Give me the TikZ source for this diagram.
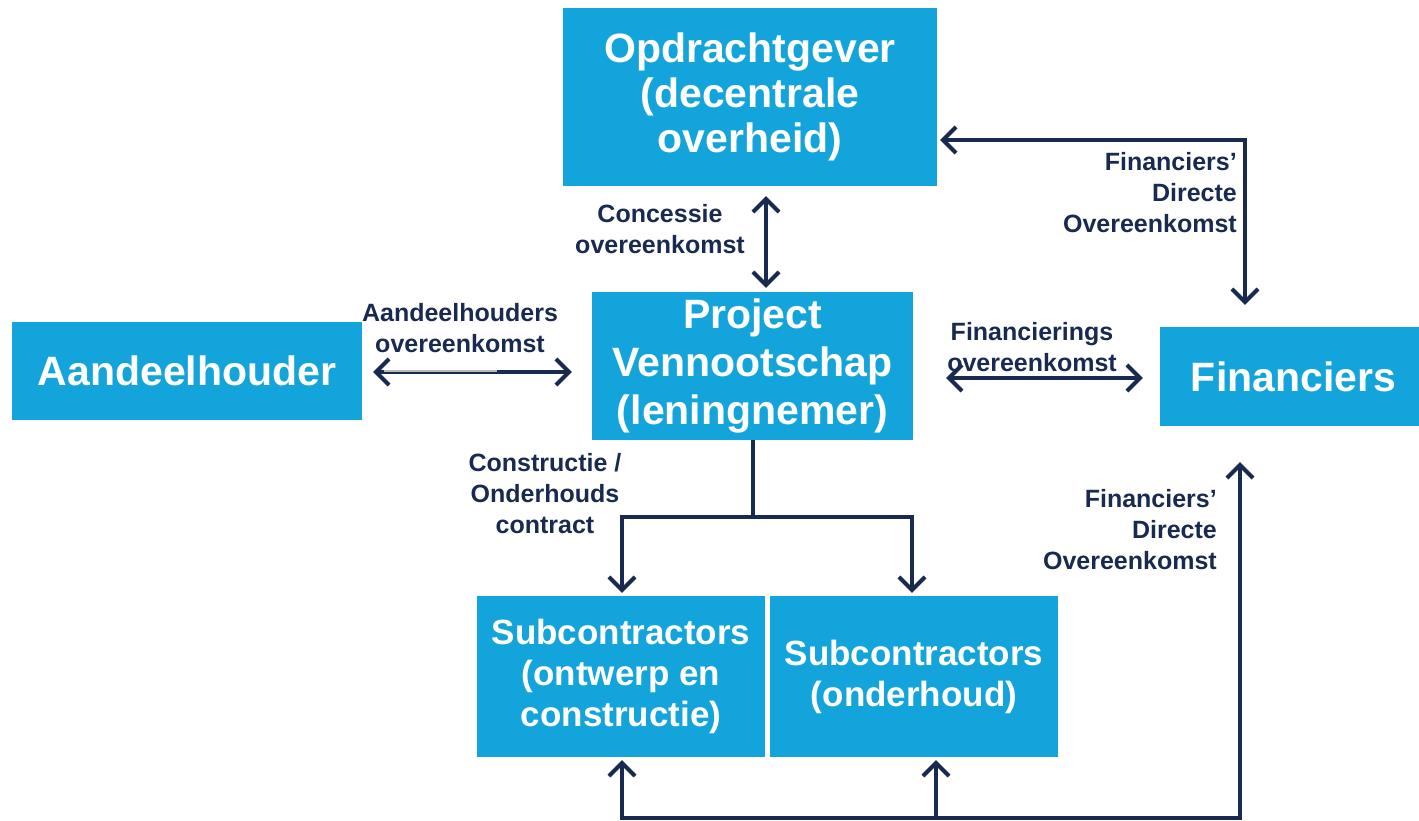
\documentclass[tikz,border=0pt]{standalone}
\usepackage{fontspec}
\setmainfont{Liberation Sans}
\usetikzlibrary{arrows.meta}
\definecolor{boxblue}{RGB}{20,164,220}
\definecolor{navy}{RGB}{24,42,80}
\tikzset{
  box/.style={fill=boxblue, text=white, align=center, inner sep=0pt},
  bigtext/.style={font=\bfseries\fontsize{41}{45}\selectfont},
  subtext/.style={font=\bfseries\fontsize{35}{41}\selectfont},
  lbl/.style={text=navy, font=\bfseries\fontsize{25}{31}\selectfont, inner sep=0pt},
  conn/.style={draw=navy, line width=4pt},
  >={Straight Barb[length=13pt,width=26pt]}
}
\begin{document}
\begin{tikzpicture}[x=1pt,y=-1pt]
\useasboundingbox (0,0) rectangle (1419,821);

% boxes
\node[box,bigtext,minimum width=374pt,minimum height=178pt] (opd) at (750,97) {Opdrachtgever\\(decentrale\\overheid)};
\node[box,font=\bfseries\fontsize{41}{48}\selectfont,minimum width=321pt,minimum height=148pt] (pv) at (752.5,366) {Project\\Vennootschap\\(leningnemer)};
\node[box,bigtext,minimum width=350pt,minimum height=98pt] (aan) at (187,371) {Aandeelhouder};
\node[box,bigtext,minimum width=259pt,minimum height=99pt] (fin) at (1289.5,376.5) {\hspace*{8pt}Financiers};
\node[box,subtext,minimum width=288pt,minimum height=161pt] (sub1) at (621,676.5) {Subcontractors\\(ontwerp en\\constructie)};
\node[box,subtext,minimum width=288pt,minimum height=161pt] (sub2) at (914,676.5) {Subcontractors\\(onderhoud)};

% labels
\node[lbl,align=center] (lconc) at (660,229) {Concessie\\overeenkomst};
\node[lbl,align=center] (laan) at (460,328) {Aandeelhouders\\overeenkomst};
\node[lbl,align=center] (lfin) at (1032,347) {Financierings\\overeenkomst};
\node[lbl,align=right,anchor=east] (ldir1) at (1237,193) {Financiers’\\Directe\\Overeenkomst};
\node[lbl,align=right,anchor=east] (ldir2) at (1217,530) {Financiers’\\Directe\\Overeenkomst};
\node[lbl,align=center] (lcon) at (545,494) {Constructie /\\Onderhouds\\contract};

% connectors
\draw[conn,<->] ([shift={(16,10)}]opd.south) -- ([shift={(13.5,-4)}]pv.north);
\draw[conn,<->] ([shift={(11,1)}]aan.east) -- ([shift={(-20,6)}]pv.west);
\draw[gray!55, line width=1.8pt] ([shift={(22,0)}]aan.east) -- ([shift={(135,0)}]aan.east);
\draw[conn,<->] ([shift={(33,12)}]pv.east) -- ([shift={(-17,1.5)}]fin.west);
\draw[conn,<->] ([shift={(3,43)}]opd.east) -| ([shift={(-44.5,-22)}]fin.north);
\draw[conn] (pv.south) -- ++(0,77) coordinate (split);
\draw[conn,->] (split) -| ([shift={(1,-3)}]sub1.north);
\draw[conn,->] (split) -| ([shift={(-2,-3)}]sub2.north);
\draw[conn,<->] ([shift={(1,3)}]sub1.south) -- ++(0,58) -| ([shift={(-49.5,36)}]fin.south);
\draw[conn,->] ([shift={(22,61)}]sub2.south) -- ([shift={(22,3)}]sub2.south);
\end{tikzpicture}
\end{document}
